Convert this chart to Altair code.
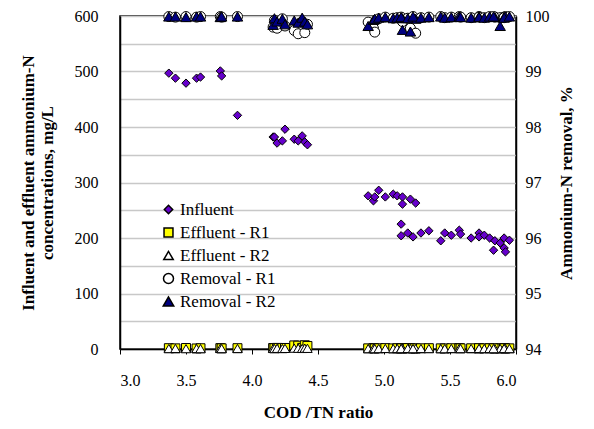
import altair as alt
import pandas as pd

# COD/TN ratio of each sample
cod_tn = [3.37, 3.42, 3.50, 3.58, 3.61, 3.76, 3.77, 3.89,
          4.16, 4.17, 4.19, 4.23, 4.25, 4.32, 4.35, 4.38, 4.40, 4.42,
          4.88, 4.92, 4.93, 4.96, 5.01, 5.07, 5.10, 5.14, 5.14, 5.20, 5.24,
          5.13, 5.13, 5.18, 5.22, 5.28, 5.34, 5.43, 5.46, 5.51, 5.57, 5.58,
          5.66, 5.72, 5.72, 5.76, 5.80, 5.84, 5.88, 5.83, 5.91, 5.92, 5.91, 5.95]
# Influent ammonium-N, mg/L
influent = [497, 488, 479, 488, 490, 501, 492, 421,
            382, 382, 371, 375, 396, 378, 375, 384, 373, 368,
            276, 267, 274, 286, 274, 279, 276, 274, 261, 270, 263,
            225, 204, 209, 202, 209, 213, 195, 209, 205, 214, 207,
            200, 209, 202, 205, 200, 195, 191, 178, 182, 175, 200, 196]
# Effluent ammonium-N, mg/L
eff_r1 = [1.5, 1.2, 1.8, 1.0, 1.4, 1.6, 1.2, 1.5,
          1.8, 1.5, 2.0, 1.6, 1.9, 6.5, 6.0, 2.0, 6.8, 5.5,
          1.2, 1.5, 1.0, 1.3, 1.6, 1.1, 1.4, 1.2, 1.5, 1.3, 1.0,
          1.4, 1.2, 1.6, 1.1, 1.3, 1.5, 1.2, 1.0, 1.4, 1.6, 1.2,
          1.3, 1.1, 1.5, 1.2, 1.4, 1.0, 1.3, 1.2, 1.5, 1.1, 1.4, 1.2]
eff_r2 = [0.8, 1.0, 0.6, 0.9, 0.7, 1.0, 0.8, 0.9,
          1.0, 0.8, 1.2, 0.9, 1.1, 1.5, 1.3, 1.0, 1.6, 1.2,
          0.7, 0.9, 0.6, 0.8, 1.0, 0.7, 0.9, 0.8, 1.0, 0.7, 0.6,
          0.9, 0.8, 1.0, 0.7, 0.9, 0.8, 0.7, 0.6, 0.9, 1.0, 0.8,
          0.9, 0.7, 1.0, 0.8, 0.9, 0.6, 0.8, 0.7, 1.0, 0.7, 0.9, 0.8]
# Ammonium-N removal, %
rem_r1 = [99.99, 99.98, 99.99, 99.98, 99.99, 99.99, 99.98, 99.99,
          99.80, 99.92, 99.78, 99.95, 99.82, 99.74, 99.68, 99.90, 99.70, 99.85,
          99.89, 99.78, 99.71, 99.95, 99.98, 99.96, 99.97, 99.95, 99.90, 99.78, 99.69,
          99.97, 99.98, 99.96, 99.99, 99.97, 99.98, 99.99, 99.97, 99.98, 99.99, 99.98,
          99.97, 99.99, 99.98, 99.97, 99.99, 99.98, 99.97, 99.99, 99.98, 99.99, 99.97, 99.99]
rem_r2 = [99.99, 99.99, 99.98, 99.99, 99.99, 99.98, 99.99, 99.99,
          99.84, 99.96, 99.90, 99.95, 99.85, 99.92, 99.88, 99.97, 99.90, 99.85,
          99.82, 99.93, 99.95, 99.97, 99.98, 99.96, 99.97, 99.75, 99.96, 99.72, 99.95,
          99.97, 99.98, 99.96, 99.99, 99.97, 99.98, 99.99, 99.97, 99.98, 99.99, 99.98,
          99.97, 99.99, 99.98, 99.97, 99.99, 99.98, 99.82, 99.99, 99.98, 99.99, 99.97, 99.99]

series = ["Influent", "Effluent - R1", "Effluent - R2", "Removal - R1", "Removal - R2"]
shapes = ["diamond", "square", "triangle-up", "circle", "triangle-up"]
fills = ["#6600CC", "#FFFF00", "#FFFFFF", "#FFFFFF", "#000080"]
strokes = ["#000000"] * 5
sizes = [70, 110, 45, 100, 50]
x_ticks = [3.0, 3.5, 4.0, 4.5, 5.0, 5.5, 6.0]
left_ticks = list(range(0, 601, 50))
right_ticks = [94, 95, 96, 97, 98, 99, 100]

FONT = "Liberation Serif"

def frame(values, name):
    return pd.DataFrame({"cod": cod_tn, "value": values, "series": name})

legend = alt.Legend(title=None, orient="none", legendX=40, legendY=185,
                    labelFont=FONT, labelFontSize=17, labelColor="black",
                    rowPadding=5, labelOffset=3)

x_enc = alt.X("cod:Q", scale=alt.Scale(domain=[3, 6], nice=False),
              axis=alt.Axis(values=x_ticks, format=".1f", title="COD /TN ratio",
                            grid=False, tickSize=5, tickColor="black",
                            labelPadding=18, titlePadding=16))

def layer(name, values, y_axis):
    return alt.Chart(frame(values, name)).mark_point(
        filled=True, strokeWidth=1, opacity=1
    ).encode(
        x=x_enc,
        y=y_axis,
        shape=alt.Shape("series:N", scale=alt.Scale(domain=series, range=shapes), legend=legend),
        fill=alt.Fill("series:N", scale=alt.Scale(domain=series, range=fills), legend=legend),
        stroke=alt.Stroke("series:N", scale=alt.Scale(domain=series, range=strokes), legend=legend),
        size=alt.Size("series:N", scale=alt.Scale(domain=series, range=sizes), legend=legend),
    )

y_left = alt.Y("value:Q", scale=alt.Scale(domain=[0, 600], nice=False),
               axis=alt.Axis(values=left_ticks, orient="left",
                             labelExpr="datum.value % 100 == 0 ? datum.label : ''",
                             title=["Influent and effluent ammonium-N", "concentrations, mg/L"],
                             grid=True, gridColor="#C8C8C8", gridWidth=1.5,
                             ticks=False, labelPadding=22, titlePadding=18))
y_right = alt.Y("value:Q", scale=alt.Scale(domain=[94, 100], nice=False),
                axis=alt.Axis(values=right_ticks, orient="right", format="d",
                              title="Ammonium-N removal, %", titleAngle=270,
                              grid=False, ticks=False, labelPadding=9, titlePadding=26))

left = alt.layer(
    layer("Influent", influent, y_left),
    layer("Effluent - R1", eff_r1, y_left),
    layer("Effluent - R2", eff_r2, y_left),
)
right = alt.layer(
    layer("Removal - R1", rem_r1, y_right),
    layer("Removal - R2", rem_r2, y_right),
)

chart = alt.layer(left, right).resolve_scale(y="independent").properties(
    width=396, height=333, background="white",
    padding={"left": 11, "top": 0, "right": 0, "bottom": 0}
).configure(
    font=FONT,
    style={"guide-label": {"font": FONT, "fill": "black"}},
).configure_view(stroke="black", strokeWidth=1.5).configure_axis(
    labelFont=FONT, labelFontSize=16, labelColor="black",
    titleFont=FONT, titleFontSize=17, titleFontWeight="bold", titleColor="black",
    domainColor="black", domainWidth=1.5,
).configure_legend(
    labelFont=FONT, labelFontSize=17, labelColor="black",
    rowPadding=5, labelOffset=3,
)

chart.save("out.html", embed_options={"renderer": "svg", "actions": False})
